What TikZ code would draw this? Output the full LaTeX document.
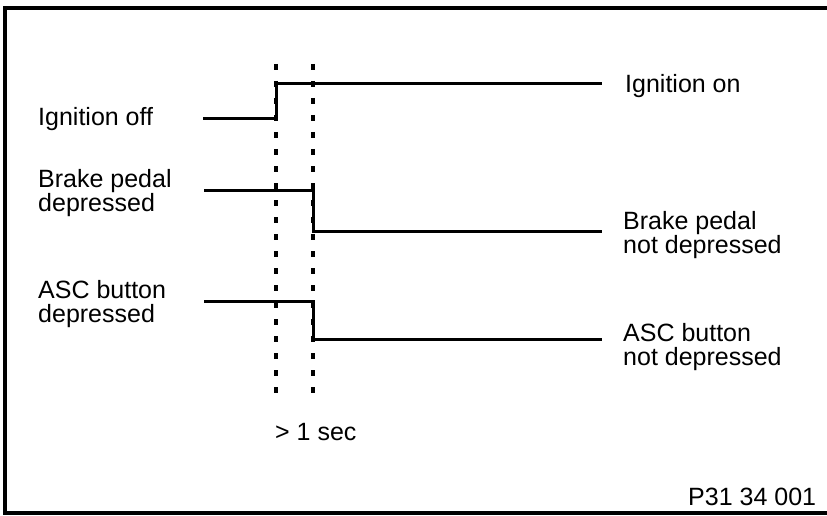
\documentclass[tikz,border=0pt]{standalone}
\usepackage{fontspec}
\setmainfont{Liberation Sans}
\usetikzlibrary{positioning}

\begin{document}
\begin{tikzpicture}[
			x=1pt, y=-1pt,
			every node/.style={
				inner sep=0pt,
				anchor=base west,
				align=left,
				font=\fontsize{25}{24}\selectfont
			},
			signal/.style={line width=3pt},
			marker/.style={line width=3.2pt, dash pattern=on 6pt off 11pt},
			frame/.style={line width=3.2pt}
			]
			
			\useasboundingbox (0,0) rectangle (827,516);
			\draw[frame] (827,8) -- (5,8) -- (5,513) -- (827,513);
			
			\node (ignoff) at (38,125) {Ignition off};
			\node (brakeon) at (38,211) {Brake pedal\\depressed};
			\node (ascon) at (38,322) {ASC button\\depressed};
			
			\node (ignon) at (625,93) {Ignition on};
			\node (brakeoff) at (623,253) {Brake pedal\\not depressed};
			\node (ascoff) at (623,365) {ASC button\\not depressed};
			
			\node (delay) at (275,440) {> 1 sec};
			\node (ref) at (688,505) {P31 34 001};
			
			% time markers
			\coordinate (t0top) at (276,64);
			\coordinate (t0bot) at (276,395);
			\coordinate (t1top) at (313,64);
			\coordinate (t1bot) at (313,395);
			\draw[marker] (t0top) -- (t0bot);
			\draw[marker] (t1top) -- (t1bot);
			
			% signals
			\coordinate (ign0) at (203,119);
			\coordinate (ign1) at (276,84);
			\coordinate (ign2) at (602,84);
			\coordinate (brk0) at (204,190);
			\coordinate (brk1) at (313,231);
			\coordinate (brk2) at (602,231);
			\coordinate (asc0) at (204,301);
			\coordinate (asc1) at (313,339);
			\coordinate (asc2) at (602,339);
			
			\draw[signal] (ign0) -| (ign1) -- (ign2);
			\draw[signal] (brk0) -| (brk1) -- (brk2);
			\draw[signal] (asc0) -| (asc1) -- (asc2);
			
		\end{tikzpicture}
\end{document}
